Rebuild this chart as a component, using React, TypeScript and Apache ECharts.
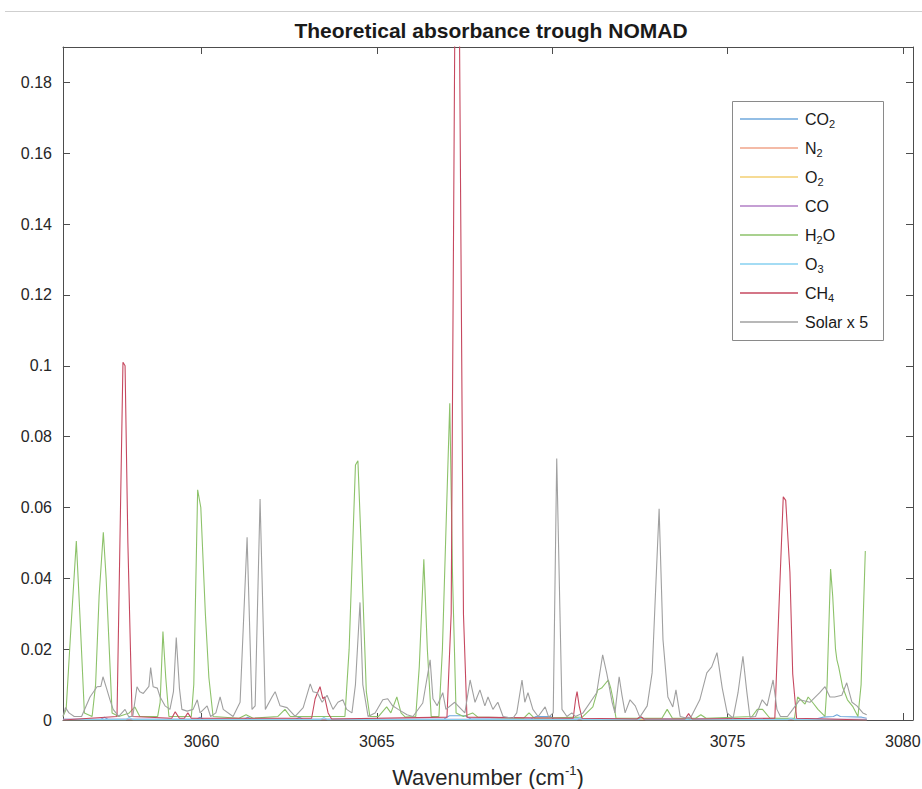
import React, { useEffect, useRef } from "react";
import * as echarts from "echarts";

const seriesNames = ["CO2", "N2", "O2", "CO", "H2O", "O3", "CH4", "Solar x 5"];
const legendLabels = ["CO{sub|2}", "N{sub|2}", "O{sub|2}", "CO", "H{sub|2}O", "O{sub|3}", "CH{sub|4}", "Solar x 5"];
const xTicks = [3060, 3065, 3070, 3075, 3080];
const yTicks = [0, 0.02, 0.04, 0.06, 0.08, 0.1, 0.12, 0.14, 0.16, 0.18];

// [wavenumber, absorbance] vertices
const co2Data = [
  [3056.05, 0.0002], [3057.13, 0.0002], [3057.23, 0.0008], [3057.33, 0.0002], [3059.86, 0.0002], [3059.96, 0.0008],
  [3060.06, 0.0002], [3061.22, 0.0002], [3061.32, 0.0008], [3061.42, 0.0002], [3062.69, 0.0002], [3062.79, 0.0008],
  [3062.89, 0.0002], [3066.92, 0.0003], [3067.07, 0.0012], [3067.52, 0.0012], [3067.68, 0.0003], [3069.39, 0.0003],
  [3069.54, 0.001], [3069.95, 0.001], [3070.05, 0.0003], [3077.52, 0.0003], [3077.72, 0.0008], [3078.02, 0.001],
  [3078.12, 0.0015], [3078.22, 0.001], [3078.83, 0.0008], [3078.97, 0.0005],
];
const n2Data = [[3056.05, 0.0001], [3078.97, 0.0001]];
const o2Data = [[3056.05, 0.0001], [3078.97, 0.0001]];
const coData = [
  [3056.05, 0.0002], [3072.42, 0.0002], [3072.52, 0.0008], [3072.62, 0.0002], [3073.79, 0.0002], [3073.89, 0.0008],
  [3073.99, 0.0002], [3078.97, 0.0002],
];
const h2oData = [
  [3056.05, 0.001], [3056.14, 0.003], [3056.27, 0.025], [3056.43, 0.0505], [3056.53, 0.03], [3056.66, 0.002],
  [3056.88, 0.001], [3056.98, 0.01], [3057.08, 0.035], [3057.2, 0.053], [3057.28, 0.04], [3057.45, 0.002],
  [3057.64, 0.001], [3057.94, 0.002], [3058.1, 0.0037], [3058.24, 0.001], [3058.75, 0.001], [3058.82, 0.005],
  [3058.9, 0.025], [3058.98, 0.012], [3059.07, 0.001], [3059.71, 0.001], [3059.78, 0.01], [3059.89, 0.065],
  [3059.98, 0.06], [3060.11, 0.03], [3060.21, 0.012], [3060.33, 0.001], [3061.07, 0.0005], [3061.27, 0.0015],
  [3061.47, 0.0005], [3062.18, 0.001], [3062.38, 0.003], [3062.53, 0.001], [3064.09, 0.001], [3064.21, 0.02],
  [3064.39, 0.072], [3064.46, 0.0732], [3064.55, 0.05], [3064.7, 0.008], [3064.8, 0.001], [3065.05, 0.001],
  [3065.28, 0.0037], [3065.4, 0.002], [3065.57, 0.0065], [3065.69, 0.002], [3065.81, 0.0008], [3066.11, 0.001],
  [3066.21, 0.015], [3066.34, 0.0454], [3066.44, 0.02], [3066.55, 0.001], [3066.77, 0.001], [3066.87, 0.02],
  [3066.99, 0.06], [3067.08, 0.0894], [3067.16, 0.04], [3067.26, 0.002], [3067.47, 0.001], [3067.73, 0.002],
  [3067.88, 0.0008], [3069.19, 0.0005], [3069.34, 0.002], [3069.49, 0.0005], [3070.86, 0.0008], [3071.16, 0.0037],
  [3071.3, 0.0085], [3071.41, 0.009], [3071.6, 0.0113], [3071.67, 0.009], [3071.74, 0.0057], [3071.82, 0.0005],
  [3073.13, 0.0005], [3073.28, 0.003], [3073.43, 0.0005], [3074.09, 0.0005], [3074.24, 0.0015], [3074.39, 0.0005],
  [3075.7, 0.001], [3075.85, 0.003], [3076.0, 0.003], [3076.21, 0.0005], [3076.91, 0.0005], [3077.0, 0.0065],
  [3077.11, 0.0055], [3077.21, 0.0045], [3077.3, 0.0065], [3077.44, 0.0048], [3077.58, 0.003], [3077.78, 0.001],
  [3077.84, 0.01], [3077.94, 0.0426], [3078.0, 0.035], [3078.08, 0.02], [3078.12, 0.017], [3078.17, 0.015],
  [3078.28, 0.0094], [3078.42, 0.0057], [3078.58, 0.0037], [3078.72, 0.001], [3078.81, 0.01], [3078.93, 0.0477],
];
const o3Data = [
  [3056.05, 0.0001], [3057.84, 0.0001], [3057.94, 0.0007], [3058.04, 0.0001], [3063.39, 0.0001], [3063.49, 0.0007],
  [3063.59, 0.0001], [3070.71, 0.0001], [3070.78, 0.0007], [3070.86, 0.0001], [3072.47, 0.0001], [3072.57, 0.0006],
  [3072.67, 0.0001], [3076.71, 0.0001], [3076.81, 0.0005], [3076.91, 0.0001], [3078.97, 0.0001],
];
const ch4Data = [
  [3056.05, 0.0], [3057.59, 0.001], [3057.69, 0.06], [3057.76, 0.101], [3057.82, 0.1], [3057.9, 0.05],
  [3058.02, 0.001], [3059.15, 0.0005], [3059.25, 0.0023], [3059.37, 0.0005], [3059.51, 0.0005], [3059.61, 0.002],
  [3059.71, 0.0005], [3063.14, 0.0005], [3063.24, 0.006], [3063.3, 0.0075], [3063.38, 0.0094], [3063.46, 0.006],
  [3063.51, 0.0065], [3063.61, 0.002], [3063.71, 0.0003], [3067.0, 0.0008], [3067.12, 0.03], [3067.22, 0.19],
  [3067.29, 0.23], [3067.36, 0.19], [3067.47, 0.03], [3067.57, 0.0008], [3070.6, 0.0005], [3070.67, 0.006],
  [3070.71, 0.008], [3070.77, 0.004], [3070.85, 0.0005], [3072.42, 0.0003], [3072.52, 0.001], [3072.62, 0.0003],
  [3073.79, 0.0003], [3073.89, 0.0018], [3073.99, 0.0003], [3076.35, 0.0005], [3076.46, 0.03], [3076.59, 0.063],
  [3076.66, 0.062], [3076.78, 0.0417], [3076.86, 0.013], [3076.97, 0.0005], [3078.97, 0.0],
];
const solarData = [
  [3056.05, 0.001], [3056.12, 0.0035], [3056.22, 0.002], [3056.37, 0.001], [3056.58, 0.001], [3056.82, 0.0065],
  [3057.02, 0.0094], [3057.13, 0.0095], [3057.19, 0.0122], [3057.29, 0.009], [3057.39, 0.0057], [3057.48, 0.003],
  [3057.64, 0.001], [3057.82, 0.003], [3057.92, 0.001], [3058.04, 0.001], [3058.16, 0.0094], [3058.24, 0.008],
  [3058.34, 0.0075], [3058.5, 0.0095], [3058.55, 0.0148], [3058.62, 0.0094], [3058.74, 0.009], [3058.82, 0.0065],
  [3058.96, 0.004], [3059.1, 0.003], [3059.2, 0.008], [3059.28, 0.0233], [3059.37, 0.009], [3059.44, 0.003],
  [3059.59, 0.0025], [3059.76, 0.003], [3059.88, 0.0057], [3059.96, 0.002], [3060.16, 0.004], [3060.26, 0.001],
  [3060.41, 0.002], [3060.53, 0.0065], [3060.62, 0.003], [3060.9, 0.001], [3061.1, 0.005], [3061.3, 0.0516],
  [3061.44, 0.003], [3061.53, 0.004], [3061.67, 0.0624], [3061.82, 0.003], [3062.01, 0.0065], [3062.1, 0.008],
  [3062.24, 0.004], [3062.44, 0.0035], [3062.67, 0.001], [3062.9, 0.0035], [3063.1, 0.0102], [3063.18, 0.008],
  [3063.3, 0.0077], [3063.44, 0.005], [3063.58, 0.007], [3063.75, 0.003], [3063.89, 0.005], [3064.03, 0.0057],
  [3064.14, 0.003], [3064.29, 0.002], [3064.39, 0.01], [3064.52, 0.0332], [3064.6, 0.01], [3064.75, 0.001],
  [3064.95, 0.002], [3065.17, 0.0057], [3065.31, 0.006], [3065.45, 0.004], [3065.61, 0.003], [3065.86, 0.0015],
  [3066.03, 0.001], [3066.31, 0.0048], [3066.52, 0.017], [3066.6, 0.006], [3066.72, 0.004], [3066.88, 0.0077],
  [3066.97, 0.003], [3067.22, 0.005], [3067.51, 0.002], [3067.66, 0.0113], [3067.8, 0.005], [3067.94, 0.0085],
  [3068.08, 0.004], [3068.17, 0.0065], [3068.31, 0.003], [3068.45, 0.005], [3068.6, 0.001], [3068.88, 0.0005],
  [3068.99, 0.002], [3069.14, 0.0113], [3069.22, 0.005], [3069.31, 0.0077], [3069.45, 0.003], [3069.6, 0.001],
  [3069.8, 0.0037], [3069.9, 0.0008], [3070.03, 0.002], [3070.13, 0.0738], [3070.28, 0.003], [3070.42, 0.001],
  [3070.56, 0.002], [3070.66, 0.001], [3070.88, 0.002], [3071.27, 0.0077], [3071.44, 0.0184], [3071.56, 0.013],
  [3071.71, 0.005], [3071.79, 0.002], [3071.91, 0.0122], [3071.99, 0.007], [3072.08, 0.002], [3072.22, 0.0057],
  [3072.37, 0.004], [3072.5, 0.0008], [3072.71, 0.004], [3072.85, 0.0133], [3072.93, 0.032], [3073.05, 0.0596],
  [3073.16, 0.0227], [3073.3, 0.0065], [3073.44, 0.0037], [3073.53, 0.0085], [3073.65, 0.001], [3073.93, 0.0003],
  [3074.21, 0.0057], [3074.41, 0.0133], [3074.55, 0.015], [3074.7, 0.019], [3074.85, 0.009], [3074.99, 0.002],
  [3075.16, 0.0005], [3075.3, 0.0077], [3075.44, 0.018], [3075.55, 0.008], [3075.64, 0.0008], [3075.8, 0.001],
  [3075.99, 0.0057], [3076.13, 0.004], [3076.3, 0.0113], [3076.41, 0.003], [3076.51, 0.001], [3076.71, 0.001],
  [3076.86, 0.003], [3077.06, 0.0057], [3077.35, 0.005], [3077.63, 0.0077], [3077.78, 0.0094], [3077.92, 0.0065],
  [3078.06, 0.0065], [3078.26, 0.007], [3078.4, 0.0105], [3078.55, 0.005], [3078.69, 0.004], [3078.86, 0.002],
  [3078.97, 0.0015],
];

const seriesData = [co2Data, n2Data, o2Data, coData, h2oData, o3Data, ch4Data, solarData];
const seriesColors = ["#6fa8dc", "#f0a58a", "#f3cf72", "#b27fc6", "#8dc26a", "#86d1f0", "#c6485f", "#a0a0a0"];

const FONT = "'Liberation Sans', Arial, Helvetica, sans-serif";

export default function App() {
  const ref = useRef<HTMLDivElement>(null);
  useEffect(() => {
    if (!ref.current) return;
    const chart = echarts.init(ref.current, undefined, { renderer: "svg" });
    const axisLineStyle = { color: "#4d4d4d", width: 1 };
    const option: any = {
      animation: false,
      backgroundColor: "#ffffff",
      textStyle: { fontFamily: FONT },
      title: {
        text: "Theoretical absorbance trough NOMAD",
        left: 486,
        top: 15,
        textAlign: "center",
        textStyle: { fontFamily: FONT, fontSize: 21, fontWeight: "bold", color: "#1a1a1a" },
      },
      grid: { left: 63, right: 9, top: 47, bottom: 69, containLabel: false, outerBoundsMode: "none" },
      legend: {
        orient: "vertical",
        left: 740,
        top: 109,
        padding: 0,
        icon: "rect",
        itemWidth: 58,
        itemHeight: 1.5,
        itemGap: 9,
        data: seriesNames,
        formatter: (name: string) => legendLabels[seriesNames.indexOf(name)],
        textStyle: {
          fontFamily: FONT,
          fontSize: 16,
          color: "#1a1a1a",
          lineHeight: 20,
          padding: [0, 0, 0, 2],
          rich: {
            sub: { fontFamily: FONT, fontSize: 11, lineHeight: 11, verticalAlign: "bottom", color: "#1a1a1a" },
          },
        },
      },
      xAxis: [
        {
          type: "value",
          min: 3056.05,
          max: 3080.29,
          position: "bottom",
          axisLine: { show: true, onZero: false, lineStyle: axisLineStyle },
          axisTick: { show: true, inside: true, length: 7, customValues: xTicks, lineStyle: axisLineStyle },
          axisLabel: {
            show: true,
            customValues: xTicks,
            fontSize: 16,
            color: "#262626",
            margin: 13,
            fontFamily: FONT,
            formatter: (v: number) => String(v),
          },
          splitLine: { show: false },
          name: "Wavenumber (cm{sup|-1})",
          nameLocation: "middle",
          nameGap: 44,
          nameTextStyle: {
            fontFamily: FONT,
            fontSize: 22,
            color: "#262626",
            lineHeight: 26,
            rich: { sup: { fontFamily: FONT, fontSize: 13, lineHeight: 13, verticalAlign: "top", color: "#262626" } },
          },
        },
        {
          type: "value",
          min: 3056.05,
          max: 3080.29,
          position: "top",
          axisLine: { show: true, onZero: false, lineStyle: axisLineStyle },
          axisTick: { show: true, inside: true, length: 7, customValues: xTicks, lineStyle: axisLineStyle },
          axisLabel: { show: false },
          splitLine: { show: false },
        },
      ],
      yAxis: [
        {
          type: "value",
          min: 0,
          max: 0.19,
          position: "left",
          axisLine: { show: true, onZero: false, lineStyle: axisLineStyle },
          axisTick: { show: true, inside: true, length: 7, customValues: yTicks, lineStyle: axisLineStyle },
          axisLabel: {
            show: true,
            customValues: yTicks,
            fontSize: 16,
            color: "#262626",
            margin: 11,
            fontFamily: FONT,
            formatter: (v: number) => String(v),
          },
          splitLine: { show: false },
        },
        {
          type: "value",
          min: 0,
          max: 0.19,
          position: "right",
          axisLine: { show: true, onZero: false, lineStyle: axisLineStyle },
          axisTick: { show: true, inside: true, length: 7, customValues: yTicks, lineStyle: axisLineStyle },
          axisLabel: { show: false },
          splitLine: { show: false },
        },
      ],
      graphic: [
        { type: "line", shape: { x1: 5, y1: 11.5, x2: 922, y2: 11.5 }, style: { stroke: "#cfcfcf", lineWidth: 1 }, z: 1 },
        {
          type: "rect",
          shape: { x: 732.5, y: 101.5, width: 151, height: 239 },
          style: { fill: "#ffffff", stroke: "#8a8a8a", lineWidth: 1 },
          z: 3,
        },
      ],
      series: seriesNames.map((name, i) => ({
        name,
        type: "line",
        xAxisIndex: 0,
        yAxisIndex: 0,
        data: seriesData[i],
        symbol: "none",
        showSymbol: false,
        clip: true,
        lineStyle: { color: seriesColors[i], width: 1.1 },
        itemStyle: { color: seriesColors[i] },
        z: 2,
      })),
    };
    chart.setOption(option);
    return () => chart.dispose();
  }, []);
  return (
    <div
      ref={ref}
      style={{ position: "fixed", left: 0, top: 0, width: 922, height: 789, background: "#fff" }}
    />
  );
}
